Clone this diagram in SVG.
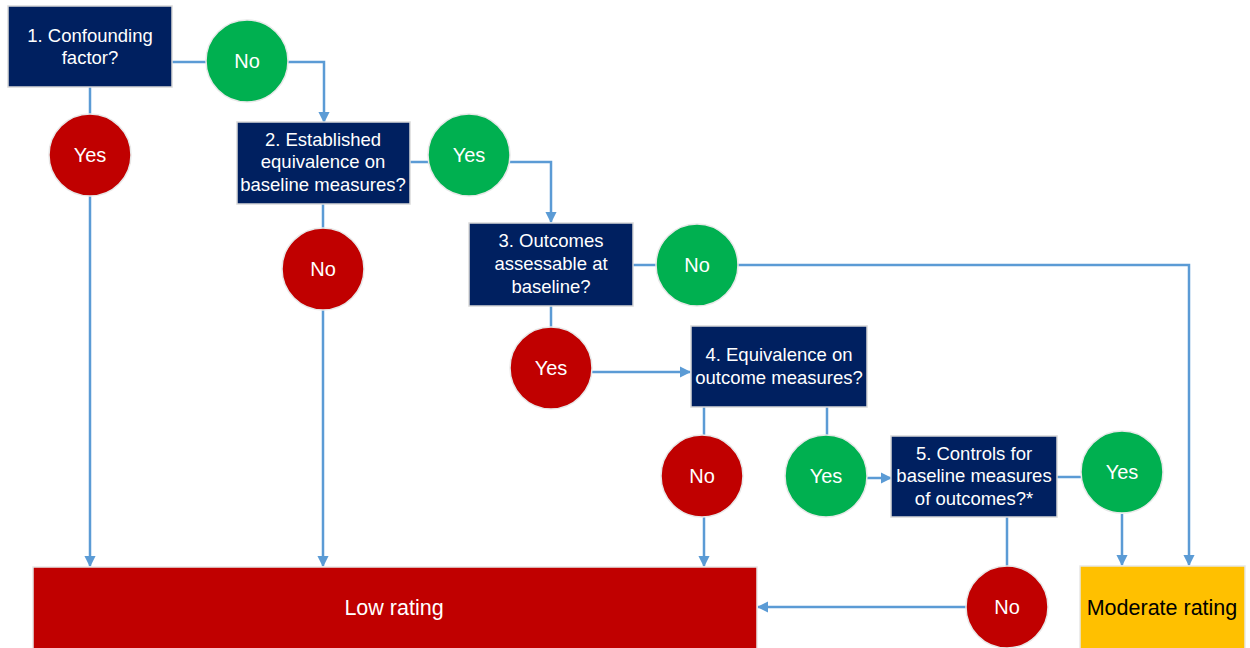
<svg xmlns="http://www.w3.org/2000/svg" width="1250" height="648" viewBox="0 0 1250 648">
<defs>
<marker id="arr" viewBox="0 0 10 10" refX="9" refY="5" markerWidth="4.5" markerHeight="4.5" orient="auto" markerUnits="strokeWidth">
<path d="M0,0 L10,5 L0,10 z" fill="#5B9BD5"/>
</marker>
<style>
.q{fill:#002060;stroke:#D9D9D9;stroke-width:1.5}
.g{fill:#00B050;stroke:#E8E8E8;stroke-width:1.5}
.r{fill:#C00000;stroke:#E8E8E8;stroke-width:1.5}
.t{font-family:"Liberation Sans",Arial,sans-serif;font-size:18.5px;fill:#FFFFFF;text-anchor:middle}
.c{font-family:"Liberation Sans",Arial,sans-serif;font-size:20px;fill:#FFFFFF;text-anchor:middle}
.o{font-family:"Liberation Sans",Arial,sans-serif;font-size:21.5px;text-anchor:middle}
.ln{fill:none;stroke:#5B9BD5;stroke-width:2.5}
.a{marker-end:url(#arr)}
</style>
</defs>
<rect width="1250" height="648" fill="#FFFFFF"/>
<g id="connectors">
<path class="ln" d="M172,62 H206"/>
<path class="ln a" d="M288,62 H324 V122"/>
<path class="ln" d="M90,87 V115"/>
<path class="ln a" d="M90,196 V566"/>
<path class="ln" d="M410,162 H430"/>
<path class="ln a" d="M510,162 H551 V222"/>
<path class="ln" d="M323,204 V229"/>
<path class="ln a" d="M323,310 V566"/>
<path class="ln" d="M633,265 H656"/>
<path class="ln a" d="M738,265 H1189 V565"/>
<path class="ln" d="M551,306 V328"/>
<path class="ln a" d="M592,372 H690"/>
<path class="ln" d="M704,407 V436"/>
<path class="ln a" d="M704,517 V566"/>
<path class="ln" d="M827,407 V436"/>
<path class="ln a" d="M867,478 H891"/>
<path class="ln" d="M1057,477 H1082"/>
<path class="ln a" d="M1122,514 V565"/>
<path class="ln" d="M1007,517 V567"/>
<path class="ln a" d="M966,607 H758"/>
</g>
<g id="q1"><rect class="q" x="8" y="6" width="164" height="81"/><text class="t" x="90" y="42">1. Confounding</text><text class="t" x="90" y="64">factor?</text></g>
<g id="no1"><circle class="g" cx="247" cy="61" r="41"/><text class="c" x="247" y="68">No</text></g>
<g id="yes1"><circle class="r" cx="90" cy="155" r="41"/><text class="c" x="90" y="162">Yes</text></g>
<g id="q2"><rect class="q" x="237" y="122" width="173" height="82"/><text class="t" x="323" y="146">2. Established</text><text class="t" x="323" y="168">equivalence on</text><text class="t" x="323" y="191">baseline measures?</text></g>
<g id="yes2"><circle class="g" cx="469" cy="155" r="41"/><text class="c" x="469" y="162">Yes</text></g>
<g id="no2"><circle class="r" cx="323" cy="269" r="41"/><text class="c" x="323" y="276">No</text></g>
<g id="q3"><rect class="q" x="469" y="223" width="164" height="83"/><text class="t" x="551" y="247">3. Outcomes</text><text class="t" x="551" y="270">assessable at</text><text class="t" x="551" y="293">baseline?</text></g>
<g id="no3"><circle class="g" cx="697" cy="265" r="41"/><text class="c" x="697" y="272">No</text></g>
<g id="yes3"><circle class="r" cx="551" cy="368" r="41"/><text class="c" x="551" y="375">Yes</text></g>
<g id="q4"><rect class="q" x="691" y="326" width="176" height="81"/><text class="t" x="779" y="361">4. Equivalence on</text><text class="t" x="779" y="384">outcome measures?</text></g>
<g id="no4"><circle class="r" cx="702" cy="476" r="41"/><text class="c" x="702" y="483">No</text></g>
<g id="yes4"><circle class="g" cx="826" cy="476" r="41"/><text class="c" x="826" y="483">Yes</text></g>
<g id="q5"><rect class="q" x="891" y="436" width="166" height="81"/><text class="t" x="974" y="460">5. Controls for</text><text class="t" x="974" y="482">baseline measures</text><text class="t" x="974" y="505">of outcomes?*</text></g>
<g id="yes5"><circle class="g" cx="1122" cy="472" r="41"/><text class="c" x="1122" y="479">Yes</text></g>
<g id="no5"><circle class="r" cx="1007" cy="607" r="41"/><text class="c" x="1007" y="614">No</text></g>
<g id="low"><rect class="r" x="33" y="567" width="724" height="90"/><text class="o" x="394" y="615" fill="#FFFFFF">Low rating</text></g>
<g id="moderate"><rect x="1080" y="566" width="165" height="90" fill="#FFC000" stroke="#E8E8E8" stroke-width="1.5"/><text class="o" x="1162" y="615" fill="#000000">Moderate rating</text></g>
</svg>
